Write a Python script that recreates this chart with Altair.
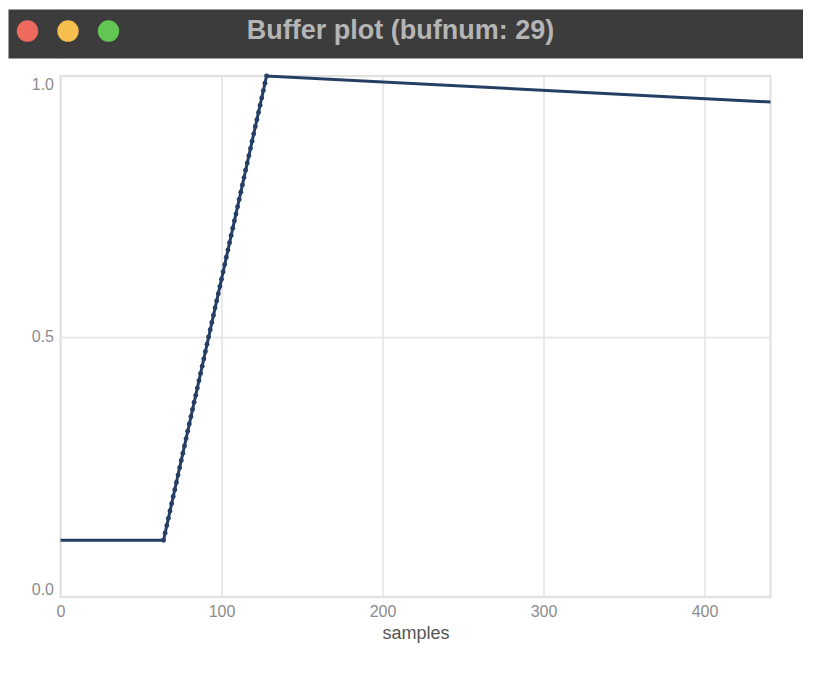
import altair as alt
import pandas as pd

# ---- data ----
window_title = "Buffer plot (bufnum: 29)"
lights = ["close", "minimize", "zoom"]
light_colors = ["#ee6a5e", "#f5be4f", "#62c554"]
light_row = [0, 0, 0]

# envelope breakpoints (sample index, value)
env_samples = [0, 64, 128, 441]
env_values = [0.109, 0.109, 1.0, 0.95]

# individual samples visible as dots on the attack ramp
ramp_samples = list(range(64, 129))
ramp_values = [
    0.109, 0.123, 0.137, 0.151, 0.165, 0.179, 0.193, 0.206, 0.220, 0.234,
    0.248, 0.262, 0.276, 0.290, 0.304, 0.318, 0.332, 0.346, 0.360, 0.374,
    0.387, 0.401, 0.415, 0.429, 0.443, 0.457, 0.471, 0.485, 0.499, 0.513,
    0.527, 0.541, 0.555, 0.568, 0.582, 0.596, 0.610, 0.624, 0.638, 0.652,
    0.666, 0.680, 0.694, 0.708, 0.722, 0.735, 0.749, 0.763, 0.777, 0.791,
    0.805, 0.819, 0.833, 0.847, 0.861, 0.875, 0.889, 0.903, 0.916, 0.930,
    0.944, 0.958, 0.972, 0.986, 1.000,
]

x_ticks = [0, 100, 200, 300, 400]
y_ticks = [0.0, 0.5, 1.0]

LINE = "#243f63"
BAR = "#3c3c3c"
FONT = "Liberation Sans"

line_df = pd.DataFrame({"sample": env_samples, "value": env_values})
pts_df = pd.DataFrame({"sample": ramp_samples, "value": ramp_values})
title_df = pd.DataFrame({"t": [window_title]})
lights_df = pd.DataFrame({"light": lights, "row": light_row})

# ---------------- main plot ----------------
x_enc = alt.X(
    "sample:Q",
    scale=alt.Scale(domain=[0, 441], nice=False, zero=False),
    axis=alt.Axis(
        values=x_ticks, title="samples", labelFlush=False,
        labelPadding=6, titlePadding=5, titleFontSize=18,
        titleColor="#555555", titleFontWeight="normal",
    ),
)
y_enc = alt.Y(
    "value:Q",
    scale=alt.Scale(domain=[0, 1], nice=False),
    axis=alt.Axis(
        values=y_ticks, format=".1f", title=None, labelFlush=True,
        labelPadding=7, minExtent=52, maxExtent=52,
    ),
)

line = alt.Chart(line_df).mark_line(color=LINE, strokeWidth=3).encode(x=x_enc, y=y_enc)
pts = alt.Chart(pts_df).mark_circle(color=LINE, size=24, opacity=1).encode(x=x_enc, y=y_enc)

main = alt.layer(line, pts).properties(
    width=710, height=521,
    view=alt.ViewBackground(fill="white", stroke="#dedede", strokeWidth=2),
)

# ---------------- window title bar ----------------
hy = alt.Y(
    "row:Q",
    scale=alt.Scale(domain=[-1.1, 0.9]),
    axis=alt.Axis(
        values=[-0.1], labels=False, domain=False, grid=False, title=None,
        ticks=True, tickSize=53, tickWidth=49, tickColor=BAR, tickCap="butt",
        translate=0, offset=-1, minExtent=52, maxExtent=52,
    ),
)

dots = alt.Chart(lights_df).mark_circle(size=460, opacity=1).encode(
    x=alt.X("light:N", sort=lights,
            scale=alt.Scale(type="point", domain=lights, range=[-33, 48], padding=0),
            axis=None),
    y=hy,
    color=alt.Color("light:N", scale=alt.Scale(domain=lights, range=light_colors), legend=None),
)

txt = alt.Chart(title_df).mark_text(
    font=FONT, fontSize=27, fontWeight="bold", color="#b5b5b5", dx=-31, dy=-3
).encode(text="t:N")

header = alt.layer(dots, txt).properties(
    width=742, height=49,
    view=alt.ViewBackground(fill=BAR, stroke="transparent"),
)

chart = alt.vconcat(header, main, spacing=10).properties(
    padding={"left": -24.5, "top": 0, "right": 0, "bottom": 0},
    background="white",
).configure_axis(
    labelFont=FONT, titleFont=FONT, labelFontSize=16, labelColor="#8c8c8c",
    domain=False, ticks=False, gridColor="#e3e3e3", gridWidth=1.5,
)

chart.save("out.html", embed_options={"renderer": "svg", "actions": False})
